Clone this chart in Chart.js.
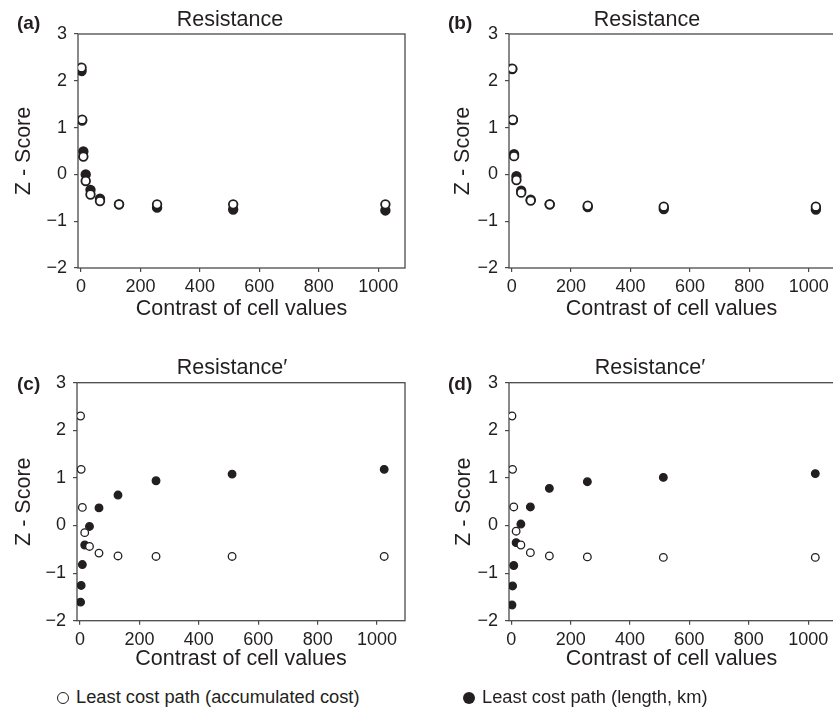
<!DOCTYPE html>
<html>
<head>
<meta charset="utf-8">
<script src="https://cdn.jsdelivr.net/npm/chart.js@4"></script>
<style>
  html, body { margin:0; padding:0; background:#fff; }
  body { width:833px; height:716px; overflow:hidden; position:relative;
         font-family:"Liberation Sans", Arial, sans-serif; color:#231f20; }
  canvas { position:absolute; }
  .tag { position:absolute; font-weight:bold; font-size:19px; line-height:19px; }
  .legend { position:absolute; top:686px; font-size:18.3px; line-height:22px; white-space:nowrap; }
  .dot { display:inline-block; width:10px; height:10px; border-radius:50%;
         border:1.6px solid #231f20; vertical-align:-1px; margin-right:7px; }
  .dot.full { background:#231f20; width:12px; height:12px; border:0; }
</style>
</head>
<body>

<canvas id="panelA" style="left:0px;top:0px;"></canvas>
<canvas id="panelB" style="left:432px;top:0px;"></canvas>
<canvas id="panelC" style="left:0px;top:350px;"></canvas>
<canvas id="panelD" style="left:432px;top:350px;"></canvas>

<div class="tag" style="left:17px;top:13px;">(a)</div>
<div class="tag" style="left:448px;top:13px;">(b)</div>
<div class="tag" style="left:17px;top:374px;">(c)</div>
<div class="tag" style="left:448px;top:374px;">(d)</div>

<div class="legend" style="left:57px;"><span class="dot"></span>Least cost path (accumulated cost)</div>
<div class="legend" style="left:463px;"><span class="dot full"></span>Least cost path (length, km)</div>

<script>
/*
=================================
DATA
=================================
*/

const contrastValues = [2, 4, 8, 16, 32, 64, 128, 256, 512, 1024];

const xTicks = [0, 200, 400, 600, 800, 1000];
const yTicks = [-2, -1, 0, 1, 2, 3];

const panelTitles = ["Resistance", "Resistance", "Resistance\u2032", "Resistance\u2032"];
const seriesNames = ["Least cost path (accumulated cost)", "Least cost path (length, km)"];

const aOpen   = [2.28, 1.17, 0.38, -0.14, -0.43, -0.57, -0.64, -0.64, -0.64, -0.64];
const aFilled = [2.21, 1.15, 0.49, 0.00, -0.33, -0.52, -0.64, -0.71, -0.75, -0.77];

const bOpen   = [2.26, 1.17, 0.39, -0.12, -0.39, -0.56, -0.64, -0.67, -0.69, -0.69];
const bFilled = [2.25, 1.16, 0.43, -0.04, -0.35, -0.54, -0.64, -0.70, -0.74, -0.75];

const cOpen   = [2.30, 1.18, 0.38, -0.15, -0.44, -0.58, -0.64, -0.65, -0.65, -0.65];
const cFilled = [-1.61, -1.26, -0.82, -0.41, -0.02, 0.37, 0.64, 0.94, 1.08, 1.18];

const dOpen   = [2.30, 1.18, 0.39, -0.12, -0.41, -0.57, -0.64, -0.66, -0.67, -0.67];
const dFilled = [-1.67, -1.27, -0.84, -0.36, 0.03, 0.39, 0.78, 0.92, 1.01, 1.09];

/*
=================================
STYLE
=================================
*/

const ink = "#231f20";
const axisInk = "#4a4a4a";
const fontFamily = "'Liberation Sans', Arial, sans-serif";

// box around the plot area
const framePlugin = {
    id: "frame",
    beforeDatasetsDraw(chart){
        const a = chart.chartArea;
        const ctx = chart.ctx;
        ctx.save();
        ctx.strokeStyle = axisInk;
        ctx.lineWidth = 1.3;
        ctx.strokeRect(a.left, a.top, a.right - a.left, a.bottom - a.top);
        ctx.restore();
    }
};

function pairs(values){
    return contrastValues.map((x, i) => ({ x: x, y: values[i] }));
}

/*
=================================
PANEL
=================================
*/

function makePanel(id, title, openVals, filledVals, cfg){

    const canvas = document.getElementById(id);
    canvas.width = cfg.w;
    canvas.height = cfg.h;

    new Chart(canvas, {
        type: "scatter",
        data: {
            datasets: [
                {
                    label: seriesNames[0],
                    data: pairs(openVals),
                    backgroundColor: "#ffffff",
                    borderColor: ink,
                    borderWidth: cfg.bw,
                    pointRadius: cfg.r
                },
                {
                    label: seriesNames[1],
                    data: pairs(filledVals),
                    backgroundColor: ink,
                    borderColor: ink,
                    borderWidth: cfg.bw,
                    pointRadius: cfg.r
                }
            ]
        },
        options: {
            responsive: false,
            animation: false,
            devicePixelRatio: 1,
            layout: {
                padding: { left: cfg.padL, right: cfg.padR, top: 0, bottom: 0 }
            },
            plugins: {
                legend: { display: false },
                tooltip: { enabled: false },
                title: {
                    display: true,
                    text: title,
                    color: ink,
                    font: { family: fontFamily, size: 21.5, weight: "normal" },
                    padding: { top: cfg.titleTop, bottom: cfg.titleBottom }
                }
            },
            scales: {
                x: {
                    type: "linear",
                    min: cfg.xMin,
                    max: cfg.xMax,
                    afterBuildTicks: s => { s.ticks = xTicks.map(v => ({ value: v })); },
                    afterFit: s => { s.height = cfg.xAxisH; },
                    grid: { drawOnChartArea: false, drawTicks: true, tickLength: 4, color: axisInk, lineWidth: 1.2 },
                    border: { display: false },
                    ticks: {
                        color: ink,
                        padding: 4.7,
                        maxRotation: 0,
                        font: { family: fontFamily, size: 18 },
                        callback: v => String(v)
                    },
                    title: {
                        display: true,
                        text: "Contrast of cell values",
                        color: ink,
                        font: { family: fontFamily, size: 21.5 },
                        padding: { top: 0, bottom: cfg.xTitleBottom }
                    }
                },
                y: {
                    type: "linear",
                    min: -2,
                    max: 3,
                    afterBuildTicks: s => { s.ticks = yTicks.map(v => ({ value: v })); },
                    afterFit: s => { s.width = cfg.yAxisW; },
                    grid: { drawOnChartArea: false, drawTicks: true, tickLength: 4, color: axisInk, lineWidth: 1.2 },
                    border: { display: false },
                    ticks: {
                        color: ink,
                        padding: 7,
                        font: { family: fontFamily, size: 18 },
                        callback: v => String(v).replace("-", "\u2212")
                    },
                    title: {
                        display: true,
                        text: "Z - Score",
                        color: ink,
                        font: { family: fontFamily, size: 21.5 },
                        padding: { top: cfg.yTitleTop, bottom: 0 }
                    }
                },
                // empty right-hand axis: only reserves room so the title sits where it should
                yRight: {
                    type: "linear",
                    position: "right",
                    min: -2,
                    max: 3,
                    afterFit: s => { s.width = cfg.rightW; },
                    grid: { display: false },
                    border: { display: false },
                    ticks: { display: false }
                }
            }
        },
        plugins: [framePlugin]
    });
}

/*
=================================
DRAW
=================================
*/

const topRow = { h: 332, xAxisH: 64, titleTop: 7.1, titleBottom: 1.1, xTitleBottom: 10.1, r: 4.3, bw: 1.8 };
const bottomRow = { h: 332, xAxisH: 61.3, titleTop: 5.1, titleBottom: 1.8, xTitleBottom: 10.1, r: 3.8, bw: 1.3 };

makePanel("panelA", panelTitles[0], aOpen, aFilled,
    Object.assign({}, topRow, { w: 460, padL: 2, padR: 2, rightW: 53, yAxisW: 76, yTitleTop: 9.1, xMin: -10, xMax: 1090 }));

makePanel("panelB", panelTitles[1], bOpen, bFilled,
    Object.assign({}, topRow, { w: 430, padL: 10, padR: 10, rightW: 18, yAxisW: 67, yTitleTop: 8.1, xMin: -9, xMax: 1085 }));

makePanel("panelC", panelTitles[2], cOpen, cFilled,
    Object.assign({}, bottomRow, { w: 464, padL: 2, padR: 2, rightW: 57, yAxisW: 75, yTitleTop: 9.1, xMin: -10, xMax: 1094 }));

makePanel("panelD", panelTitles[3], dOpen, dFilled,
    Object.assign({}, bottomRow, { w: 436, padL: 10, padR: 10, rightW: 24, yAxisW: 67, yTitleTop: 9.1, xMin: -8, xMax: 1087 }));
</script>
</body>
</html>
